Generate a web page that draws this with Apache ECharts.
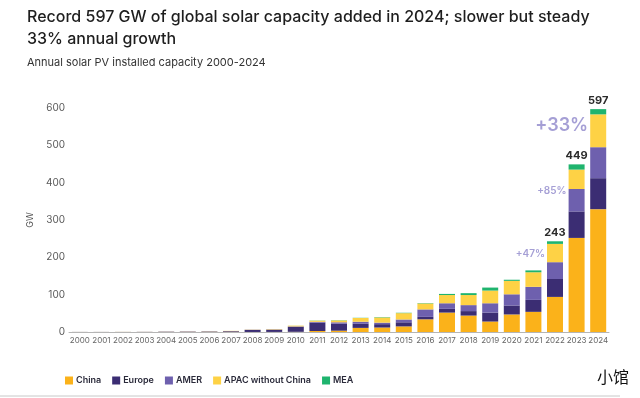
<!DOCTYPE html>
<html lang="en">
  <head>
    <meta charset="UTF-8" />
    <script src="https://cdn.jsdelivr.net/npm/echarts@6/dist/echarts.min.js"></script>
    <title>Annual solar PV installed capacity</title>
    <style>
      body { margin: 0; background: #ffffff; }
      #container { width: 640px; height: 398px; }
    </style>
  </head>
  <body>
    <div id="container"></div>
    <script>
      // values (GW)
      var years = ["2000", "2001", "2002", "2003", "2004", "2005", "2006", "2007", "2008", "2009", "2010", "2011", "2012",
        "2013", "2014", "2015", "2016", "2017", "2018", "2019", "2020", "2021", "2022", "2023", "2024"];
      var china = [0, 0, 0, 0, 0, 0, 0, 0, 0.1, 0.2, 0.5, 2.7, 3.5, 11, 12, 15, 34, 52, 44, 28, 47, 54, 94, 252, 329];
      var europe = [0.2, 0.2, 0.2, 0.3, 0.8, 1, 1.2, 2, 5.5, 6, 13, 22.6, 19, 11, 9, 11, 6.5, 10, 12, 24, 24, 32, 48, 71, 83];
      var amer = [0, 0, 0, 0.1, 0.1, 0.1, 0.2, 0.2, 0.4, 0.6, 1.5, 2, 3.5, 5.5, 4, 7.5, 20, 15, 16, 25, 30, 35, 45, 60, 83];
      var apac = [0.1, 0.1, 0.2, 0.2, 0.3, 0.4, 0.5, 0.8, 0.5, 1, 2, 3, 5, 10, 14, 17, 16, 22, 27, 34, 36, 39, 49, 52, 88];
      var mea = [0, 0, 0, 0, 0, 0, 0, 0, 0, 0, 0.1, 0.5, 0.6, 0.5, 1, 1, 1, 3, 5, 8, 3, 5, 7, 14, 14];
      var totalLabels = ["", "", "", "", "", "", "", "", "", "", "", "", "", "", "", "", "", "", "", "", "", "", "243", "449", "597"];
      var growth = [
        { year: "2022", y: 210, text: "+47%", size: 10 },
        { year: "2023", y: 377, text: "+85%", size: 10 },
        { year: "2024", y: 552, text: "+33%", size: 18 }
      ];
      var yTicks = [0, 100, 200, 300, 400, 500, 600];

      var colors = {
        china: "#fbb21a",
        europe: "#3b2d73",
        amer: "#6e60ae",
        apac: "#fed245",
        mea: "#1fb46e"
      };

      var chart = echarts.init(document.getElementById("container"), null, { renderer: "canvas" });

      function barSeries(name, data, color) {
        return {
          name: name,
          type: "bar",
          stack: "total",
          barWidth: 16,
          itemStyle: { color: color },
          data: data
        };
      }

      var meaSeries = barSeries("MEA", mea, colors.mea);
      meaSeries.label = {
        show: true,
        position: "top",
        distance: 3,
        color: "#2b2b2b",
        fontWeight: "bold",
        fontSize: 11,
        fontFamily: "Inter",
        formatter: function (p) { return totalLabels[p.dataIndex]; }
      };

      var option = {
        animation: false,
        backgroundColor: "#ffffff",
        textStyle: { fontFamily: "Inter" },
        title: [
          {
            text: "Record 597 GW of global solar capacity added in 2024; slower but steady\n33% annual growth",
            left: 22,
            top: 1,
            textStyle: { fontSize: 16, fontWeight: 500, color: "#1e1e1e", lineHeight: 22, fontFamily: "Inter" }
          },
          {
            text: "Annual solar PV installed capacity 2000-2024",
            left: 22,
            top: 52,
            textStyle: { fontSize: 11, fontWeight: "normal", color: "#333333", fontFamily: "Inter" }
          }
        ],
        legend: {
          left: 60,
          top: 371,
          itemWidth: 8,
          itemHeight: 8,
          itemGap: 11,
          icon: "rect",
          textStyle: { fontSize: 9, fontWeight: 600, color: "#2a2a3a", fontFamily: "Inter", padding: [0, 0, 0, -2] },
          data: ["China", "Europe", "AMER", "APAC without China", "MEA"]
        },
        grid: { left: 69, right: 31, top: 108, bottom: 66 },
        xAxis: {
          type: "category",
          data: years,
          axisLine: { lineStyle: { color: "#b5b5b5", width: 1 } },
          axisTick: { show: false },
          axisLabel: { interval: 0, fontSize: 8, color: "#666666", margin: 5 }
        },
        yAxis: {
          type: "value",
          min: yTicks[0],
          max: yTicks[yTicks.length - 1],
          interval: 100,
          name: "GW",
          nameLocation: "middle",
          nameGap: 30,
          nameRotate: 90,
          nameTextStyle: { fontSize: 9, color: "#555555" },
          axisLine: { show: false },
          axisTick: { show: false },
          splitLine: { show: false },
          axisLabel: { fontSize: 10, color: "#5a5a5a", margin: 4 }
        },
        series: [
          barSeries("China", china, colors.china),
          barSeries("Europe", europe, colors.europe),
          barSeries("AMER", amer, colors.amer),
          barSeries("APAC without China", apac, colors.apac),
          meaSeries,
          {
            name: "growth",
            type: "scatter",
            symbolSize: 0,
            silent: true,
            data: growth.map(function (g) {
              return {
                value: [g.year, g.y],
                label: {
                  show: true,
                  position: "left",
                  distance: 10,
                  formatter: g.text,
                  fontSize: g.size,
                  fontWeight: 600,
                  color: "#8e87cb"
                }
              };
            })
          }
        ],
        graphic: [
          {
            type: "text",
            left: 597,
            top: 369,
            style: { text: "小馆", fontSize: 16, fill: "#111111", fontFamily: "Noto Sans CJK SC" }
          },
          {
            type: "line",
            shape: { x1: 0, y1: 396, x2: 620, y2: 396 },
            style: { stroke: "#c8c8c8", lineWidth: 1 }
          }
        ]
      };

      chart.setOption(option);
    </script>
  </body>
</html>
